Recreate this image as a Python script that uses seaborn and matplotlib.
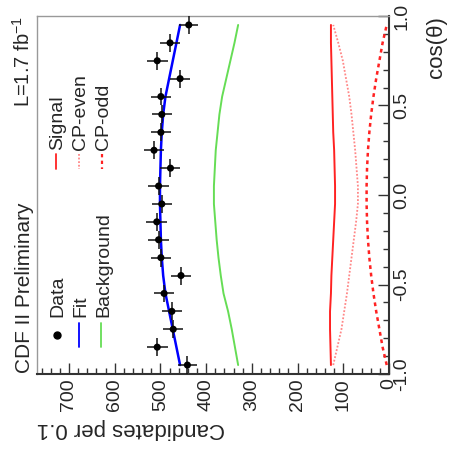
import numpy as np
import pandas as pd
import matplotlib
matplotlib.use("Agg")
import matplotlib.pyplot as plt
from matplotlib.lines import Line2D
from matplotlib.ticker import MultipleLocator, FormatStrFormatter
import seaborn as sns

# ── Values read from the (rotated) CDF plot ─────────────────────────────────
cos_bins = [-0.95, -0.85, -0.75, -0.65, -0.55, -0.45, -0.35, -0.25, -0.15, -0.05,
            0.05, 0.15, 0.25, 0.35, 0.45, 0.55, 0.65, 0.75, 0.85, 0.95]
data_counts = [441, 507, 472, 475, 492, 455, 499, 504, 508, 497,
               504, 478, 514, 499, 497, 499, 457, 507, 479, 438]
fit_curve = [457, 465, 473, 481, 489, 494, 497, 499, 500, 501,
             501, 500, 499, 497, 494, 489, 481, 473, 465, 457]
background = [330, 337, 344, 352, 362, 368, 373, 377, 380, 383,
              383, 381, 379, 375, 371, 365, 356, 347, 338, 330]
signal = [127, 128, 129, 129, 127, 126, 124, 122, 120, 118,
          118, 119, 120, 122, 123, 124, 125, 126, 127, 127]
cp_even = [122, 113, 104, 98, 92, 87, 82, 77, 72, 68,
           68, 71, 74, 78, 82, 87, 94, 101, 111, 122]
cp_odd = [5, 14, 21, 28, 34, 39, 43, 46, 48, 49,
          49, 48, 46, 43, 39, 34, 28, 21, 14, 5]
bin_half_width = 0.05

df = pd.DataFrame({"cos": cos_bins, "data": data_counts, "fit": fit_curve,
                   "bkg": background, "sig": signal,
                   "even": cp_even, "odd": cp_odd})

sns.set_style("ticks")
plt.rcParams["font.family"] = ["Liberation Sans", "DejaVu Sans"]
plt.rcParams["mathtext.default"] = "regular"
plt.rcParams["axes.unicode_minus"] = False

W = 449
fig = plt.figure(figsize=(4.49, 4.49), dpi=100)
ax = fig.add_axes([37 / W, 75 / W, 352 / W, 358 / W])


def px(x, y):
    # pixel position in the picture -> figure fraction
    return x / W, 1 - y / W


# curves (the plot is rotated: counts run horizontally, cos(θ) vertically)
curves = [("bkg", "#66dd55", "-", 1.4),
          ("sig", "#ff2222", "-", 1.4),
          ("even", "#ff8888", (0, (1, 1)), 1.3),
          ("odd", "#ff2222", (0, (1.5, 1.5)), 1.8),
          ("fit", "#0000ff", "-", 1.8)]
for col, color, ls, lw in curves:
    sns.lineplot(data=df, x=col, y="cos", orient="y", sort=False,
                 color=color, linestyle=ls, linewidth=lw, ax=ax)

ax.errorbar(df["data"], df["cos"], xerr=np.sqrt(df["data"]), yerr=bin_half_width,
            fmt="none", ecolor="#111111", elinewidth=1.1, zorder=4)
sns.scatterplot(data=df, x="data", y="cos", color="black", s=26,
                edgecolor="none", zorder=5, ax=ax)

ax.set_xlim(770, 0)
ax.set_ylim(-1, 1)
ax.set_xlabel("")
ax.set_ylabel("")

ax.xaxis.set_major_locator(MultipleLocator(100))
ax.xaxis.set_minor_locator(MultipleLocator(20))
ax.yaxis.tick_right()
ax.yaxis.set_major_locator(MultipleLocator(0.5))
ax.yaxis.set_minor_locator(MultipleLocator(0.1))
ax.yaxis.set_major_formatter(FormatStrFormatter("%.1f"))

ax.tick_params(which="both", direction="in", color="#333333", width=1.0,
               labelsize=14, pad=3)
ax.tick_params(which="major", length=8)
ax.tick_params(which="minor", length=4)
ax.tick_params(axis="y", which="both", left=False, right=True)
plt.setp(ax.get_xticklabels(), rotation=90, ha="center", va="top")
plt.setp(ax.get_yticklabels(), rotation=90, ha="left", va="center")

for side in ["top", "left"]:
    ax.spines[side].set_color("#999999")
    ax.spines[side].set_linewidth(1.0)
for side in ["bottom", "right"]:
    ax.spines[side].set_color("#333333")
    ax.spines[side].set_linewidth(1.5)

# axis titles
fig.text(*px(37, 428), "Candidates per 0.1", rotation=180, fontsize=16,
         ha="left", va="center")
fig.text(*px(436, 16), "cos(θ)", rotation=90, fontsize=16,
         ha="center", va="top")

# header texts
fig.text(*px(30, 373), "CDF II Preliminary", rotation=90, fontsize=15,
         ha="left", va="baseline", rotation_mode="anchor")
fig.text(*px(30, 16), "L=1.7 fb$^{-1}$", rotation=90, fontsize=14.5,
         ha="right", va="baseline", rotation_mode="anchor")

# legends (drawn rotated by hand)
def key_line(xp, y0, y1, **kw):
    x0f, y0f = px(xp, y0)
    _, y1f = px(xp, y1)
    fig.add_artist(Line2D([x0f, x0f], [y0f, y1f], transform=fig.transFigure, **kw))


def key_text(xp, yp, label):
    fig.text(*px(xp, yp), label, rotation=90, fontsize=14,
             ha="left", va="baseline", rotation_mode="anchor")


mx, my = px(56.7, 335)
fig.add_artist(Line2D([mx], [my], marker="o", markersize=5, color="black",
                      linestyle="none", transform=fig.transFigure))
key_text(62, 317, "Data")
key_line(79, 323, 347, color="#0000ff", linewidth=1.3)
key_text(85, 317, "Fit")
key_line(101, 323, 347, color="#66dd55", linewidth=1.3)
key_text(108, 317, "Background")

key_line(56, 154, 169, color="#ff2222", linewidth=1.3)
key_text(62, 150, "Signal")
key_line(79, 154, 169, color="#ff8888", linewidth=1.3, linestyle=(0, (1, 1)))
key_text(85, 150, "CP-even")
key_line(101.5, 154, 169, color="#ff2222", linewidth=1.6, linestyle=(0, (1.5, 1.5)))
key_text(108, 150, "CP-odd")

fig.savefig("out.png", dpi=100)
